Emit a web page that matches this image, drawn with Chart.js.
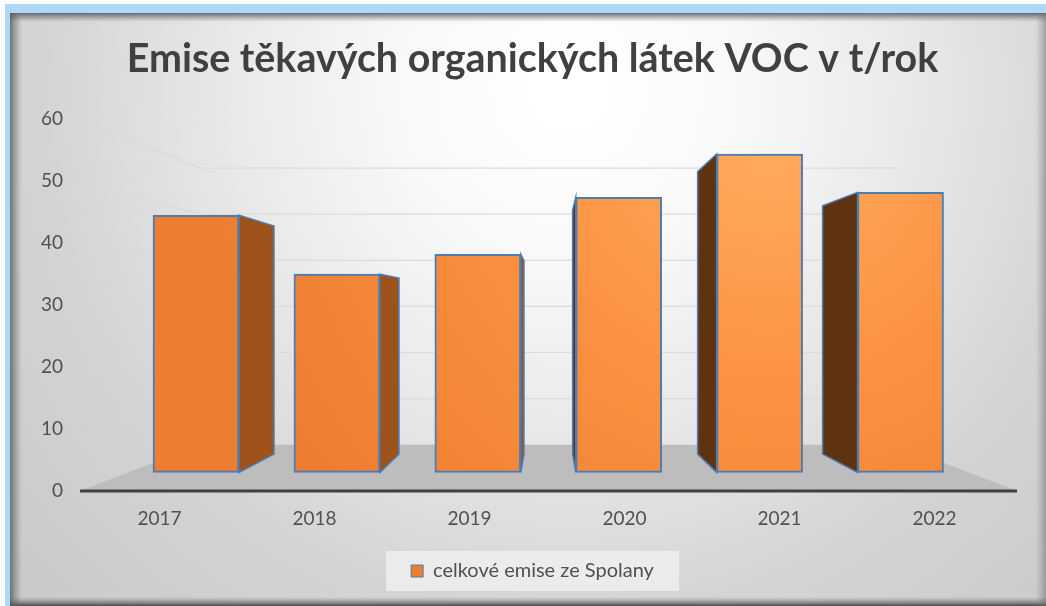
<!DOCTYPE html>
<html lang="cs">
<head>
<meta charset="utf-8">
<style>html,body{margin:0;padding:0;background:#fff}canvas{display:block}</style>
<script src="https://cdn.jsdelivr.net/npm/chart.js@4"></script>
</head>
<body>
<div style="width:1046px;height:606px"><canvas id="c" width="1046" height="606"></canvas></div>
<script>
const categories = ['2017', '2018', '2019', '2020', '2021', '2022'];
const emissions = [44.5, 35.0, 38.2, 47.4, 54.4, 48.2];
const seriesName = 'celkové emise ze Spolany';
const titleText = 'Emise těkavých organických látek VOC v t/rok';
const FONT = 'Lato, "Open Sans", sans-serif';

// perspective of the 3D look
const VP = {x: 548.5, y: 310};
const BAR_DEPTH = 0.113, WALL_DEPTH = 0.256;
const proj = (x, y, t) => [x + t * (VP.x - x), y + t * (VP.y - y)];

let barGrad = null;
function barFill(c) {
  if (!barGrad) {
    barGrad = c.chart.ctx.createRadialGradient(770, 130, 20, 770, 130, 560);
    barGrad.addColorStop(0, '#ffaa5c');
    barGrad.addColorStop(0.45, '#fb9140');
    barGrad.addColorStop(1, '#ed7d31');
  }
  return barGrad;
}

const scenery = {
  id: 'scenery',
  afterLayout(chart) {
    // let the y tick labels sit left of the axis box without being clipped
    chart.scales.y.left = 30;
  },
  beforeDraw(chart) {
    const g = chart.ctx;
    g.save();
    g.fillStyle = '#fff'; g.fillRect(0, 0, 1046, 606);
    g.fillStyle = '#aed8f6'; g.fillRect(5, 4, 1041, 602);
    const X = 10, Y = 13, W = 1036, H = 593;
    const r = g.createRadialGradient(570, 90, 30, 570, 90, 760);
    r.addColorStop(0, '#ffffff');
    r.addColorStop(0.2, '#f8f8f8');
    r.addColorStop(0.42, '#e9e9e9');
    r.addColorStop(0.68, '#d4d4d4');
    r.addColorStop(1, '#c8c8c8');
    g.fillStyle = r; g.fillRect(X, Y, W, H);
    const edge = (x0, y0, x1, y1, rx, ry, rw, rh, dark) => {
      const l = g.createLinearGradient(x0, y0, x1, y1);
      l.addColorStop(0, dark);
      l.addColorStop(1, 'rgba(120,120,120,0)');
      g.fillStyle = l; g.fillRect(rx, ry, rw, rh);
    };
    edge(0, Y, 0, Y + 9, X, Y, W, 9, 'rgba(70,85,105,.85)');
    edge(0, 606, 0, 597, X, 597, W, 9, 'rgba(50,50,50,.85)');
    edge(X, 0, X + 12, 0, X, Y, 12, H, 'rgba(80,80,80,.75)');
    edge(1046, 0, 1036, 0, 1036, Y, 10, H, 'rgba(110,110,110,.55)');
    // legend plate
    const l = chart.legend, cx = (l.left + l.right) / 2;
    g.fillStyle = 'rgba(238,238,238,.85)';
    g.fillRect(cx - 146.5, 551, 293, 40);
    g.restore();
  },
  beforeDatasetsDraw(chart) {
    const g = chart.ctx, y = chart.scales.y;
    const L = 80, R = 1017;
    g.save();
    y.ticks.forEach(t => {
      if (t.value === 0) return;
      const py = y.getPixelForValue(t.value);
      const [bl, by] = proj(L, py, WALL_DEPTH);
      const [br] = proj(R, py, WALL_DEPTH);
      g.strokeStyle = '#dcdcdc'; g.lineWidth = 1.2;
      g.beginPath(); g.moveTo(bl, by); g.lineTo(br, by); g.stroke();
      const s = g.createLinearGradient(L + 5, 0, bl, 0);
      s.addColorStop(0, 'rgba(215,215,215,.45)');
      s.addColorStop(1, 'rgba(215,215,215,.9)');
      g.strokeStyle = s;
      g.beginPath(); g.moveTo(L + 5, py + WALL_DEPTH * 10); g.lineTo(bl, by); g.stroke();
    });
    const p0 = y.getPixelForValue(0);
    const [fl, fy] = proj(L, p0, WALL_DEPTH);
    const [fr] = proj(R, p0, WALL_DEPTH);
    g.fillStyle = '#bdbdbd';
    g.beginPath(); g.moveTo(L, p0); g.lineTo(R, p0); g.lineTo(fr, fy); g.lineTo(fl, fy); g.closePath(); g.fill();
    chart.getDatasetMeta(0).data.forEach(b => {
      const rightSide = b.x < VP.x;
      const ex = rightSide ? b.x + b.width / 2 : b.x - b.width / 2;
      const [tx, ty] = proj(ex, b.y, BAR_DEPTH);
      const [, by] = proj(ex, b.base, BAR_DEPTH);
      g.fillStyle = rightSide ? '#9c5219' : '#5f3210';
      g.strokeStyle = '#4a7db5'; g.lineWidth = 1.5;
      g.beginPath(); g.moveTo(ex, b.y); g.lineTo(tx, ty); g.lineTo(tx, by); g.lineTo(ex, b.base); g.closePath();
      g.fill(); g.stroke();
    });
    g.restore();
  },
  afterDatasetsDraw(chart) {
    const g = chart.ctx, p0 = chart.scales.y.getPixelForValue(0);
    g.save();
    g.strokeStyle = '#404040'; g.lineWidth = 3;
    g.beginPath(); g.moveTo(80, p0); g.lineTo(1017, p0); g.stroke();
    g.restore();
  }
};

new Chart(document.getElementById('c'), {
  type: 'bar',
  data: {
    labels: categories,
    datasets: [{
      label: seriesName,
      data: emissions,
      xAxisID: 'xb',
      yAxisID: 'y',
      base: 3.0,
      barThickness: 86,
      backgroundColor: barFill,
      borderColor: '#4a7db5',
      borderWidth: 2,
      borderSkipped: false
    }]
  },
  plugins: [scenery],
  options: {
    responsive: false,
    animation: false,
    layout: {padding: {left: 53, right: 34, top: 0, bottom: 15}},
    scales: {
      x: {
        type: 'category',
        offset: true,
        grid: {display: false, drawTicks: false},
        border: {display: false},
        ticks: {color: '#505050', font: {family: FONT, size: 19}, padding: 16, maxRotation: 0},
        afterFit(s) { s.height = 60; }
      },
      xb: {type: 'linear', display: false, offset: false, min: 2016.191, max: 2022.791},
      y: {
        min: 0,
        max: 60,
        grid: {display: false, drawTicks: false},
        border: {display: false},
        ticks: {stepSize: 10, color: '#505050', font: {family: FONT, size: 19}, padding: 19},
        afterFit(s) { s.width = 29; }
      }
    },
    plugins: {
      title: {
        display: true,
        text: titleText,
        color: '#404040',
        font: {family: FONT, size: 39.4, weight: 'bold', lineHeight: 1.2},
        padding: {top: 36, bottom: 36}
      },
      legend: {
        position: 'bottom',
        labels: {
          color: '#505050',
          font: {family: FONT, size: 20},
          boxWidth: 12,
          boxHeight: 12,
          padding: 10,
          generateLabels(chart) {
            return Chart.defaults.plugins.legend.labels.generateLabels(chart)
              .map(i => Object.assign(i, {fillStyle: '#ed7d31', strokeStyle: '#4a7db5', lineWidth: 1}));
          }
        }
      },
      tooltip: {enabled: false}
    }
  }
});
</script>
</body>
</html>
